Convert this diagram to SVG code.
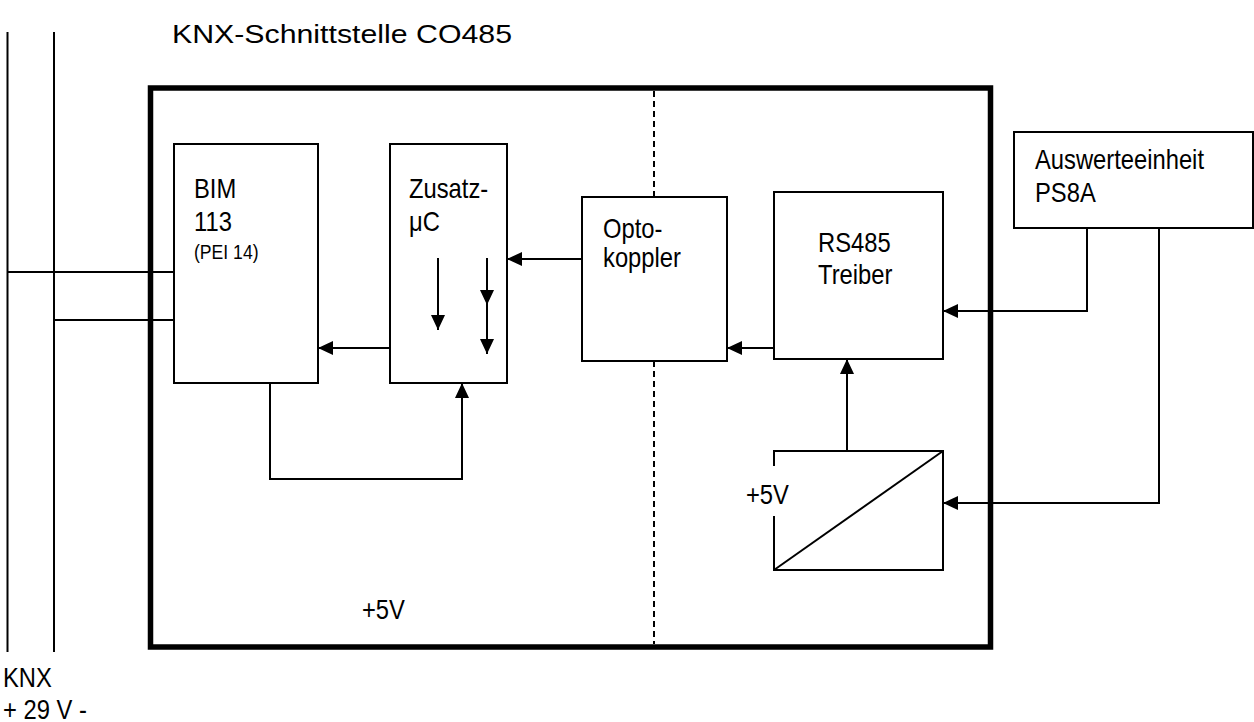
<svg xmlns="http://www.w3.org/2000/svg" width="1254" height="722" viewBox="0 0 1254 722">
<style>
text{font-family:"Liberation Sans",Arial,sans-serif;fill:#000}
.t{font-size:27px}
.s{font-size:20px}
.box{fill:#fff;stroke:#000;stroke-width:2}
.ln{fill:none;stroke:#000;stroke-width:2}
.arr{fill:none;stroke:#000;stroke-width:2;marker-end:url(#ah)}
</style>
<defs>
<marker id="ah" viewBox="0 0 15 14" refX="15" refY="7" markerWidth="15" markerHeight="14" markerUnits="userSpaceOnUse" orient="auto">
<path d="M0,0 L15,7 L0,14 Z" fill="#000"/>
</marker>
</defs>
<rect width="1254" height="722" fill="#fff"/>
<text x="172" y="43" font-size="26.5" textLength="340" lengthAdjust="spacingAndGlyphs">KNX-Schnittstelle CO485</text>
<g id="bus">
<line class="ln" x1="7.5" y1="32" x2="7.5" y2="652"/>
<line class="ln" x1="54" y1="32" x2="54" y2="652"/>
<text class="t" transform="translate(3,687) scale(0.88,1)">KNX</text>
<text class="t" transform="translate(3,719) scale(0.88,1)">+ 29 V -</text>
</g>
<g id="connectors">
<line class="ln" x1="7.5" y1="272" x2="174" y2="272"/>
<line class="ln" x1="54" y1="320" x2="174" y2="320"/>
<polyline class="arr" points="1087,228 1087,311 943,311"/>
<polyline class="arr" points="1159,228 1159,503 943,503"/>
<line class="arr" x1="847" y1="451" x2="847" y2="359"/>
<line class="arr" x1="774" y1="348" x2="727" y2="348"/>
<line class="arr" x1="582" y1="259" x2="507" y2="259"/>
<line class="arr" x1="390" y1="348" x2="318" y2="348"/>
<polyline class="arr" points="270,383 270,479 462,479 462,383"/>
</g>
<g id="main">
<rect x="150.5" y="88" width="840" height="559" fill="none" stroke="#000" stroke-width="5.5"/>
<line x1="654" y1="91" x2="654" y2="197" stroke="#000" stroke-width="2" stroke-dasharray="6,4"/>
<line x1="654" y1="361" x2="654" y2="644" stroke="#000" stroke-width="2" stroke-dasharray="6,4"/>
<text class="t" transform="translate(362,619) scale(0.88,1)">+5V</text>
</g>
<g id="bim">
<rect class="box" x="174" y="144" width="144" height="239"/>
<text class="t" transform="translate(194,198) scale(0.88,1)">BIM</text>
<text class="t" transform="translate(194,231) scale(0.88,1)">113</text>
<text class="s" transform="translate(194,259) scale(0.88,1)">(PEI 14)</text>
</g>
<g id="zusatz">
<rect class="box" x="390" y="144" width="117" height="239"/>
<text class="t" transform="translate(409,198) scale(0.88,1)">Zusatz-</text>
<text class="t" transform="translate(409,231) scale(0.88,1)">μC</text>
<line class="arr" x1="438" y1="258" x2="438" y2="330"/>
<line class="arr" x1="487" y1="258" x2="487" y2="305"/>
<line class="arr" x1="487" y1="305" x2="487" y2="354"/>
</g>
<g id="opto">
<rect class="box" x="582" y="197" width="145" height="164"/>
<text class="t" transform="translate(603,238) scale(0.88,1)">Opto-</text>
<text class="t" transform="translate(603,267) scale(0.88,1)">koppler</text>
</g>
<g id="rs485">
<rect class="box" x="774" y="192" width="169" height="167"/>
<text class="t" transform="translate(818,252) scale(0.88,1)">RS485</text>
<text class="t" transform="translate(818,284) scale(0.88,1)">Treiber</text>
</g>
<g id="converter">
<polyline class="ln" points="774,466 774,451 943,451 943,570 774,570 774,516"/>
<line class="ln" x1="774" y1="570" x2="943" y2="451"/>
<text class="t" transform="translate(746,504) scale(0.88,1)">+5V</text>
</g>
<g id="auswerte">
<rect class="box" x="1014" y="132" width="239" height="96"/>
<text class="t" transform="translate(1035,169) scale(0.88,1)">Auswerteeinheit</text>
<text class="t" transform="translate(1035,202) scale(0.88,1)">PS8A</text>
</g>
</svg>
